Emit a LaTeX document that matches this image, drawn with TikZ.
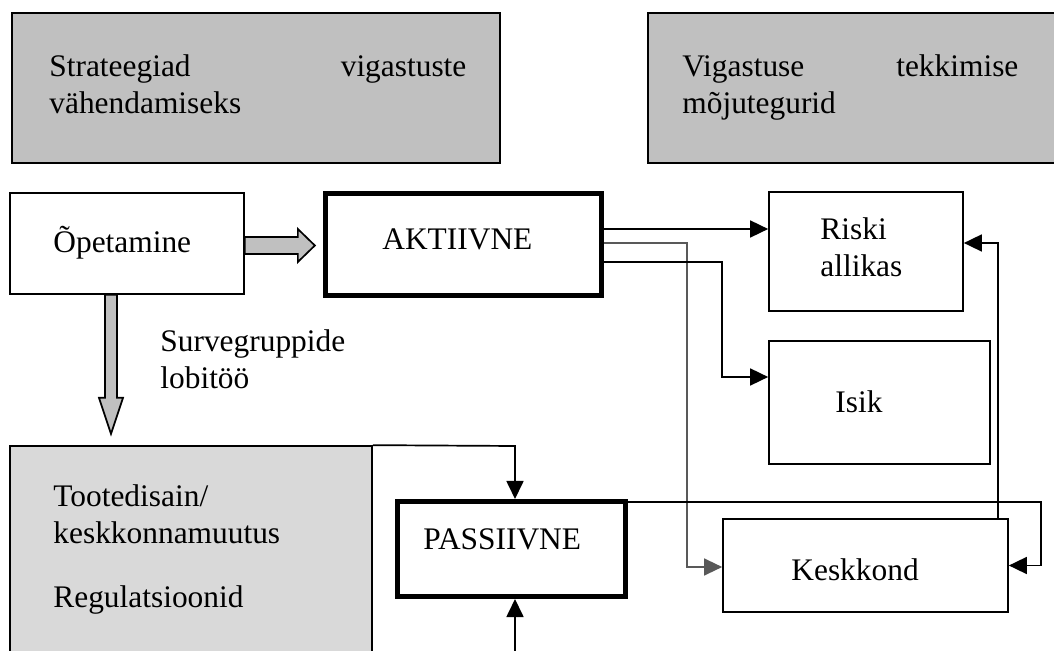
\documentclass[tikz,border=0pt]{standalone}
\usepackage{fontspec}
\setmainfont{Liberation Serif}
\usepackage{tikz}
\usetikzlibrary{arrows.meta,calc}

\definecolor{boxgray}{HTML}{C0C0C0}
\definecolor{palegray}{HTML}{D9D9D9}

\tikzset{
  frame/.style={draw, line width=0.85pt, inner sep=0pt},
  heavy/.style={draw, line width=2.5pt, inner sep=0pt},
  txt/.style={inner sep=0pt, anchor=base west, align=left},
  conn/.style={line width=0.85pt, -{Triangle[length=9pt,width=8.5pt]}},
  blk/.style={draw, line width=0.85pt, fill=boxgray, line join=miter}
}

\begin{document}
\begin{tikzpicture}[x=0.5pt, y=-0.5pt, font=\fontsize{15.7}{18.5}\selectfont]

    \useasboundingbox (0,0) rectangle (1054,651);
    \clip (0,0) rectangle (1054,651);

    % heading boxes
    \node[frame, fill=boxgray, minimum width=244pt, minimum height=75pt] (strat) at (256,88) {};
    \node[frame, fill=boxgray, minimum width=208pt, minimum height=75pt] (mojut) at (856,88) {};
    \node[txt, text width=208.5pt] (stratT) at (49,77) {Strateegiad\hfill vigastuste\\v\"ahendamiseks};
    \node[txt, text width=168pt] (mojutT) at (682,77) {Vigastuse\hfill tekkimise\\m\~ojutegurid};

    % strategies
    \node[frame, minimum width=117pt, minimum height=50.5pt] (ope) at (127,243.5) {};
    \node[txt] (opeT) at (53,253) {\~Opetamine};

    \node[heavy, minimum width=138pt, minimum height=51pt] (akt) at (463.5,244.5) {};
    \node[txt] (aktT) at (382,250) {AKTIIVNE};

    \node[frame, fill=palegray, minimum width=181pt, minimum height=127pt] (tood) at (191,573) {};
    \node[txt, text width=150pt] (toodT) at (53,507) {Tootedisain/\\keskkonnamuutus};
    \node[txt] (regT) at (53,607) {Regulatsioonid};

    \node[heavy, minimum width=114pt, minimum height=47.5pt] (pass) at (511.5,549) {};
    \node[txt] (passT) at (423,549) {PASSIIVNE};

    \node[txt, text width=100pt] (lobi) at (160,352) {Survegruppide\\lobit\"o\"o};

    % factors
    \node[frame, minimum width=97pt, minimum height=59.5pt] (riski) at (866,251.5) {};
    \node[txt, text width=60pt] (riskiT) at (820,240) {Riski\\allikas};

    \node[frame, minimum width=110.5pt, minimum height=61.5pt] (isik) at (879.5,402.5) {};
    \node[txt] (isikT) at (835,413) {Isik};

    \node[frame, minimum width=142.5pt, minimum height=46.5pt] (kesk) at (865.5,565.5) {};
    \node[txt] (keskT) at (791,581) {Keskkond};

    % block arrows
    \draw[blk] ($(ope.east)+(0,-6.5)$) -- ++(53,0) -- ++(0,-8) -- ++(17,16.5)
      -- ++(-17,16.5) -- ++(0,-8) -- ++(-53,0) -- cycle;
    \draw[blk] ($(ope.south)+(-22,0)$) -- ++(0,103) -- ++(-6,0) -- ++(12,36)
      -- ++(12,-36) -- ++(-6,0) -- ++(0,-103) -- cycle;

    % connectors
    \draw[conn] ($(akt.east)+(0,-15.5)$) -- ($(riski.west)+(0,-22.5)$);
    \draw[conn, draw=black!65, line width=0.7pt] ($(akt.east)+(0,-1.5)$) -| ($(kesk.west)+(-35,1.5)$) -- ($(kesk.west)+(0,1.5)$);
    \draw[conn] ($(akt.east)+(0,17.5)$) -| ($(isik.west)+(-46,-25.5)$) -- ($(isik.west)+(0,-25.5)$);
    \draw[conn] ($(kesk.north east)+(-11,0)$) |- ($(riski.east)+(0,-8.5)$);
    \draw[conn] ($(pass.north east)+(0,3)$) -- ++(413,0) |- (kesk.east);

    \coordinate (pin) at (515,446);
    \coordinate (pout) at (515,700);
    \draw[conn] (tood.north east) -- (pin) -- (pin |- pass.north);
    \draw[conn] (pout) -- (pout |- pass.south);

\end{tikzpicture}
\end{document}
